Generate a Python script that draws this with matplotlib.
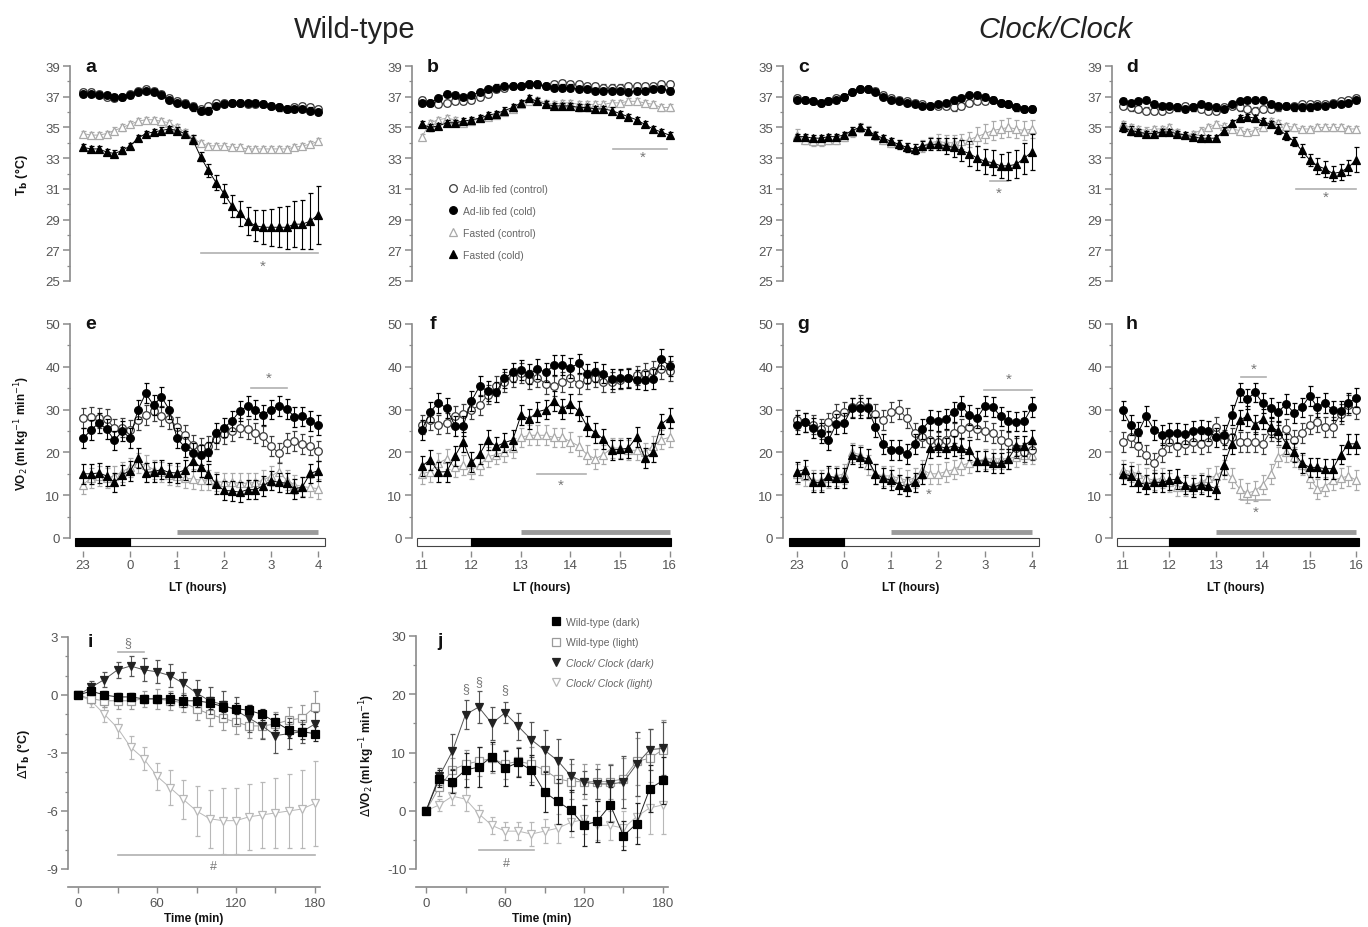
import numpy as np
import matplotlib
matplotlib.use("Agg")
import matplotlib.pyplot as plt
from matplotlib.lines import Line2D
from matplotlib.patches import Rectangle
from matplotlib.ticker import MultipleLocator

plt.rcParams['font.family'] = ['Liberation Sans', 'DejaVu Sans']
plt.rcParams['axes.unicode_minus'] = False

# ---------------- data ----------------
bin_minutes = np.arange(0, 301, 10)        # 10-min bins across 5 h
night_start = -1                            # 23:00
day_start = 11                              # 11:00
night_ticks = [-1, 0, 1, 2, 3, 4]
night_labels = ['23', '0', '1', '2', '3', '4']
day_ticks = [11, 12, 13, 14, 15, 16]
day_labels = ['11', '12', '13', '14', '15', '16']

# Tb, wild-type, dark->light (a)
a_adlib_ctrl = [37.3, 37.3, 37.2, 37.0, 36.9, 37.0, 37.2, 37.4, 37.5, 37.4, 37.2, 36.9, 36.7, 36.6, 36.4, 36.2, 36.4, 36.6, 36.6, 36.6, 36.6, 36.5, 36.5, 36.5, 36.4, 36.3, 36.2, 36.3, 36.4, 36.3, 36.2]
a_adlib_cold = [37.2, 37.2, 37.1, 37.1, 37.0, 37.0, 37.1, 37.3, 37.4, 37.3, 37.1, 36.8, 36.6, 36.5, 36.3, 36.1, 36.1, 36.4, 36.5, 36.6, 36.6, 36.6, 36.6, 36.5, 36.4, 36.3, 36.2, 36.2, 36.2, 36.1, 36.0]
a_fast_ctrl = [34.6, 34.5, 34.5, 34.6, 34.8, 35.0, 35.2, 35.4, 35.5, 35.5, 35.4, 35.3, 35.0, 34.7, 34.3, 34.0, 33.8, 33.8, 33.8, 33.7, 33.7, 33.6, 33.6, 33.6, 33.6, 33.6, 33.6, 33.7, 33.8, 33.9, 34.1]
a_fast_cold = [33.7, 33.6, 33.6, 33.4, 33.3, 33.5, 33.8, 34.3, 34.6, 34.7, 34.8, 34.9, 34.8, 34.6, 34.2, 33.1, 32.2, 31.4, 30.7, 29.9, 29.4, 28.9, 28.6, 28.5, 28.5, 28.5, 28.5, 28.7, 28.7, 28.9, 29.3]
a_fast_cold_sem = [0.2, 0.2, 0.2, 0.2, 0.2, 0.2, 0.2, 0.2, 0.2, 0.2, 0.2, 0.2, 0.2, 0.2, 0.3, 0.3, 0.4, 0.5, 0.6, 0.7, 0.8, 0.9, 1.0, 1.1, 1.2, 1.3, 1.4, 1.5, 1.6, 1.8, 1.9]

# Tb, wild-type, light->dark (b)
b_adlib_ctrl = [36.8, 36.6, 36.5, 36.6, 36.7, 36.7, 36.8, 37.0, 37.2, 37.5, 37.6, 37.7, 37.7, 37.8, 37.8, 37.7, 37.8, 37.9, 37.8, 37.8, 37.7, 37.7, 37.6, 37.6, 37.6, 37.7, 37.7, 37.7, 37.7, 37.8, 37.8]
b_adlib_cold = [36.6, 36.6, 36.9, 37.2, 37.1, 37.0, 37.1, 37.3, 37.5, 37.6, 37.7, 37.7, 37.7, 37.8, 37.8, 37.7, 37.6, 37.6, 37.6, 37.5, 37.5, 37.4, 37.4, 37.4, 37.4, 37.3, 37.4, 37.4, 37.5, 37.5, 37.4]
b_fast_ctrl = [34.4, 35.3, 35.5, 35.6, 35.5, 35.3, 35.4, 35.6, 35.7, 35.8, 36.0, 36.2, 36.5, 36.7, 36.8, 36.6, 36.5, 36.6, 36.6, 36.5, 36.5, 36.5, 36.5, 36.6, 36.6, 36.7, 36.7, 36.6, 36.5, 36.3, 36.3]
b_fast_cold = [35.2, 35.0, 35.1, 35.3, 35.3, 35.4, 35.5, 35.6, 35.8, 35.9, 36.1, 36.3, 36.6, 36.9, 36.7, 36.5, 36.4, 36.4, 36.4, 36.3, 36.3, 36.2, 36.2, 36.1, 35.9, 35.7, 35.5, 35.2, 34.9, 34.7, 34.5]

# Tb, Clock/Clock, dark->light (c)
c_adlib_ctrl = [36.9, 36.8, 36.7, 36.6, 36.7, 36.9, 37.0, 37.3, 37.5, 37.5, 37.4, 37.1, 36.9, 36.8, 36.7, 36.6, 36.5, 36.4, 36.4, 36.4, 36.3, 36.4, 36.6, 36.7, 36.7, 36.8, 36.6, 36.5, 36.3, 36.2, 36.2]
c_adlib_cold = [36.8, 36.8, 36.7, 36.6, 36.7, 36.8, 37.0, 37.3, 37.5, 37.5, 37.3, 37.0, 36.8, 36.7, 36.6, 36.5, 36.4, 36.4, 36.5, 36.6, 36.8, 36.9, 37.1, 37.1, 37.0, 36.8, 36.6, 36.5, 36.3, 36.2, 36.2]
c_fast_ctrl = [34.5, 34.2, 34.1, 34.1, 34.2, 34.2, 34.4, 34.7, 35.0, 34.8, 34.5, 34.2, 34.0, 33.9, 33.7, 33.6, 33.8, 34.0, 34.1, 34.0, 34.0, 34.1, 34.2, 34.4, 34.6, 34.8, 34.9, 35.0, 34.9, 34.8, 34.9]
c_fast_cold = [34.4, 34.4, 34.3, 34.3, 34.4, 34.4, 34.5, 34.8, 35.0, 34.8, 34.5, 34.3, 34.1, 33.9, 33.7, 33.6, 33.8, 33.9, 33.9, 33.8, 33.7, 33.5, 33.3, 33.0, 32.8, 32.7, 32.5, 32.5, 32.6, 33.0, 33.4]
c_fast_ctrl_sem = [0.4, 0.3, 0.3, 0.3, 0.3, 0.3, 0.3, 0.3, 0.3, 0.3, 0.3, 0.3, 0.3, 0.3, 0.3, 0.3, 0.4, 0.4, 0.5, 0.5, 0.5, 0.5, 0.5, 0.6, 0.6, 0.6, 0.6, 0.6, 0.6, 0.6, 0.6]
c_fast_cold_sem = [0.2, 0.2, 0.2, 0.2, 0.2, 0.2, 0.2, 0.2, 0.2, 0.2, 0.2, 0.2, 0.2, 0.3, 0.3, 0.3, 0.3, 0.4, 0.4, 0.5, 0.6, 0.7, 0.8, 0.8, 0.8, 0.8, 0.8, 0.9, 0.9, 1.0, 1.2]

# Tb, Clock/Clock, light->dark (d)
d_adlib_ctrl = [36.4, 36.3, 36.2, 36.1, 36.1, 36.1, 36.2, 36.3, 36.4, 36.3, 36.2, 36.1, 36.1, 36.3, 36.4, 36.3, 36.2, 36.1, 36.2, 36.2, 36.3, 36.4, 36.4, 36.5, 36.5, 36.5, 36.5, 36.6, 36.7, 36.8, 36.9]
d_adlib_cold = [36.7, 36.6, 36.7, 36.8, 36.5, 36.4, 36.4, 36.3, 36.2, 36.3, 36.5, 36.4, 36.3, 36.2, 36.5, 36.7, 36.8, 36.8, 36.8, 36.5, 36.4, 36.4, 36.3, 36.3, 36.3, 36.4, 36.4, 36.5, 36.5, 36.6, 36.8]
d_fast_ctrl = [35.2, 35.0, 34.9, 34.8, 34.9, 34.9, 35.0, 34.7, 34.5, 34.6, 34.8, 35.0, 35.2, 35.1, 34.9, 34.8, 34.7, 34.8, 35.0, 35.4, 35.3, 35.1, 35.0, 34.9, 34.9, 35.0, 35.0, 35.0, 35.0, 34.9, 34.9]
d_fast_cold = [35.0, 34.8, 34.7, 34.6, 34.6, 34.7, 34.7, 34.6, 34.5, 34.4, 34.3, 34.3, 34.3, 34.8, 35.3, 35.6, 35.7, 35.6, 35.4, 35.2, 34.9, 34.5, 34.1, 33.5, 32.9, 32.5, 32.3, 32.0, 32.1, 32.4, 32.9]
d_fast_cold_sem = [0.3, 0.3, 0.2, 0.2, 0.2, 0.2, 0.2, 0.2, 0.2, 0.2, 0.2, 0.2, 0.2, 0.2, 0.2, 0.2, 0.2, 0.2, 0.2, 0.2, 0.3, 0.3, 0.3, 0.4, 0.4, 0.5, 0.5, 0.5, 0.5, 0.5, 0.8]

TB_SEM = 0.2      # typical SEM for the remaining Tb series

# VO2, wild-type, dark->light (e)
e_adlib_ctrl = [28.0, 28.3, 28.0, 27.8, 25.6, 25.8, 25.2, 27.6, 28.8, 29.6, 28.5, 27.8, 26.0, 24.0, 21.8, 21.0, 21.5, 23.2, 24.2, 25.0, 25.8, 25.4, 24.6, 23.8, 21.5, 19.8, 22.2, 22.6, 22.0, 21.6, 20.4]
e_adlib_cold = [23.3, 25.2, 26.9, 25.4, 22.8, 25.0, 23.3, 30.0, 33.8, 31.0, 33.0, 30.0, 23.3, 21.2, 19.8, 19.4, 20.2, 24.6, 25.8, 27.3, 29.7, 30.8, 30.0, 28.8, 30.0, 30.8, 30.2, 28.3, 28.4, 27.4, 26.4]
e_fast_ctrl = [12.5, 14.0, 14.5, 14.0, 14.5, 15.5, 16.5, 17.5, 17.0, 16.0, 15.5, 14.8, 14.5, 14.0, 13.8, 13.5, 13.5, 13.2, 13.0, 13.0, 12.8, 12.8, 13.0, 13.5, 14.5, 15.5, 13.5, 12.5, 12.0, 11.8, 11.5]
e_fast_cold = [15.0, 15.0, 15.2, 14.5, 13.0, 14.8, 15.7, 18.7, 15.3, 15.5, 16.0, 15.3, 15.2, 15.9, 18.0, 16.6, 15.0, 12.6, 11.1, 11.0, 10.7, 11.3, 11.3, 12.2, 13.4, 13.0, 12.8, 11.5, 11.9, 15.1, 15.7]

# VO2, wild-type, light->dark (f)
f_adlib_ctrl = [26.5, 27.5, 26.5, 26.8, 28.5, 29.0, 30.0, 31.0, 33.5, 35.5, 36.5, 37.5, 38.5, 37.0, 37.5, 36.0, 35.5, 36.5, 37.5, 36.0, 37.0, 37.5, 36.5, 36.5, 37.0, 37.5, 38.0, 38.5, 39.0, 39.5, 39.0]
f_adlib_cold = [25.2, 29.5, 31.6, 30.3, 26.2, 26.2, 32.0, 35.5, 34.3, 34.1, 37.3, 38.7, 39.2, 38.3, 39.5, 38.7, 40.4, 40.4, 39.8, 40.8, 38.4, 38.8, 38.4, 37.1, 37.3, 37.3, 37.0, 36.8, 37.1, 41.8, 40.2]
f_fast_ctrl = [15.0, 15.5, 17.5, 18.5, 16.5, 17.0, 16.0, 17.0, 19.0, 19.5, 20.0, 21.0, 23.5, 24.0, 24.0, 24.0, 23.5, 23.5, 22.5, 21.5, 19.5, 18.5, 19.5, 21.0, 21.0, 20.5, 20.5, 20.0, 21.5, 23.0, 23.5]
f_fast_cold = [16.8, 18.3, 15.4, 15.5, 19.1, 22.5, 17.7, 19.6, 22.9, 21.4, 22.3, 22.9, 28.7, 27.8, 29.5, 30.0, 32.0, 30.2, 31.4, 29.6, 26.1, 24.6, 23.1, 20.6, 20.7, 21.0, 23.6, 18.7, 20.0, 26.6, 28.1]

# VO2, Clock/Clock, dark->light (g)
g_adlib_ctrl = [27.5, 27.0, 26.5, 25.5, 27.0, 29.0, 29.5, 30.5, 31.0, 30.5, 29.0, 27.5, 29.5, 30.0, 28.0, 24.5, 23.5, 23.0, 22.5, 23.0, 24.5, 25.5, 26.0, 25.5, 25.0, 24.5, 23.0, 22.5, 21.0, 20.0, 20.5]
g_adlib_cold = [26.5, 27.0, 25.7, 24.5, 22.8, 26.6, 26.8, 30.4, 30.4, 30.3, 26.0, 22.0, 20.5, 20.5, 19.7, 22.0, 25.5, 27.5, 27.3, 27.8, 29.5, 30.9, 28.7, 28.0, 30.9, 30.6, 28.4, 27.3, 27.2, 27.3, 30.6]
g_fast_ctrl = [15.0, 14.5, 13.5, 13.5, 14.0, 14.5, 15.0, 20.0, 19.5, 17.0, 15.0, 14.5, 14.5, 14.0, 13.5, 14.0, 16.0, 15.0, 15.0, 15.5, 16.0, 17.0, 17.5, 18.0, 18.5, 18.5, 18.5, 18.5, 19.0, 19.5, 19.5]
g_fast_cold = [15.5, 16.0, 13.0, 13.0, 14.5, 14.0, 14.0, 19.5, 19.0, 18.5, 15.0, 14.0, 13.5, 12.5, 12.0, 13.0, 15.0, 21.0, 21.5, 21.0, 21.5, 21.0, 20.5, 18.0, 18.0, 17.5, 17.5, 18.5, 21.5, 21.5, 23.0]

# VO2, Clock/Clock, light->dark (h)
h_adlib_ctrl = [22.5, 23.5, 21.5, 19.5, 17.5, 20.0, 22.5, 21.5, 22.0, 22.5, 22.0, 22.5, 26.0, 23.0, 23.5, 22.5, 22.5, 22.5, 22.0, 25.0, 24.0, 25.5, 23.0, 24.5, 26.5, 27.0, 26.0, 26.0, 29.0, 31.0, 30.0]
h_adlib_cold = [29.8, 26.4, 24.7, 28.5, 25.3, 24.1, 24.5, 24.5, 24.3, 25.0, 25.3, 25.0, 23.5, 24.0, 28.8, 34.0, 32.5, 34.0, 31.5, 30.3, 29.5, 31.3, 29.2, 30.5, 33.2, 30.6, 31.5, 29.8, 29.6, 31.5, 32.8]
h_fast_ctrl = [16.0, 15.5, 15.0, 14.0, 13.5, 14.0, 13.0, 12.0, 12.0, 12.5, 13.0, 14.0, 14.5, 16.0, 14.0, 11.5, 10.5, 11.0, 12.5, 15.0, 19.0, 20.0, 19.0, 17.0, 14.0, 11.5, 12.0, 13.5, 14.0, 14.5, 13.5]
h_fast_cold = [15.0, 14.5, 13.0, 12.5, 13.0, 13.0, 13.5, 13.8, 12.5, 11.8, 12.5, 12.2, 11.5, 17.0, 22.0, 27.5, 28.5, 26.5, 27.8, 26.0, 25.0, 22.0, 20.0, 17.5, 16.5, 16.5, 16.2, 16.2, 19.5, 22.0, 22.0]

VO2_SEM = 2.3     # typical SEM for VO2 series

# change from onset of cold exposure (i, j)
time_min = np.arange(0, 181, 10)
i_wt_dark = [0, 0.2, 0.0, -0.1, -0.1, -0.2, -0.2, -0.2, -0.3, -0.3, -0.4, -0.6, -0.7, -0.8, -1.0, -1.4, -1.8, -1.9, -2.0]
i_wt_light = [0, -0.2, -0.3, -0.3, -0.3, -0.2, -0.2, -0.3, -0.4, -0.7, -1.0, -1.2, -1.4, -1.6, -1.6, -1.5, -1.3, -1.2, -0.6]
i_clk_dark = [0, 0.4, 0.8, 1.3, 1.5, 1.3, 1.2, 1.0, 0.6, 0.1, -0.3, -0.5, -0.8, -1.2, -1.6, -2.1, -2.0, -1.9, -1.5]
i_clk_light = [0, -0.3, -1.0, -1.7, -2.7, -3.3, -4.2, -4.8, -5.4, -6.0, -6.4, -6.5, -6.5, -6.3, -6.2, -6.1, -6.0, -5.9, -5.6]
i_wt_dark_sem = [0, 0.2, 0.2, 0.2, 0.2, 0.2, 0.2, 0.3, 0.3, 0.3, 0.3, 0.3, 0.3, 0.3, 0.3, 0.4, 0.4, 0.4, 0.4]
i_wt_light_sem = [0, 0.2, 0.3, 0.4, 0.4, 0.4, 0.5, 0.5, 0.5, 0.6, 0.6, 0.6, 0.6, 0.6, 0.6, 0.6, 0.7, 0.7, 0.8]
i_clk_dark_sem = [0, 0.3, 0.4, 0.4, 0.5, 0.6, 0.6, 0.6, 0.6, 0.7, 0.7, 0.7, 0.7, 0.7, 0.7, 0.9, 0.8, 0.6, 0.6]
i_clk_light_sem = [0, 0.3, 0.4, 0.5, 0.6, 0.6, 0.7, 0.9, 1.0, 1.3, 1.5, 1.7, 1.7, 1.7, 1.7, 1.8, 1.9, 2.0, 2.2]

j_wt_dark = [0, 5.5, 5.0, 7.0, 7.5, 9.3, 7.3, 8.3, 7.0, 3.2, 1.6, 0.1, -2.5, -1.8, 1.0, -4.3, -2.2, 3.8, 5.2]
j_wt_light = [0, 4.0, 7.0, 8.0, 8.5, 9.0, 8.0, 8.5, 8.0, 7.0, 5.5, 5.0, 5.0, 5.0, 5.0, 5.5, 8.5, 9.0, 10.5]
j_clk_dark = [0, 5.9, 10.2, 16.5, 17.8, 15.0, 16.8, 14.5, 12.2, 10.4, 8.6, 6.0, 4.9, 4.6, 4.6, 4.9, 8.0, 10.5, 10.7]
j_clk_light = [0, 1.0, 2.5, 2.0, -0.5, -2.5, -3.5, -3.5, -4.0, -3.5, -3.0, -2.0, -1.5, -2.5, -2.5, -3.0, -1.0, 0.5, 1.0]
j_wt_dark_sem = [0, 1.5, 2.0, 3.0, 3.5, 2.5, 3.0, 2.5, 2.5, 3.5, 3.8, 3.5, 3.5, 3.5, 3.0, 2.5, 3.5, 4.0, 4.0]
j_wt_light_sem = [0, 1.5, 2.0, 2.5, 2.5, 2.5, 2.5, 2.5, 3.0, 3.5, 3.5, 3.0, 3.0, 3.0, 3.0, 3.5, 4.0, 5.0, 5.0]
j_clk_dark_sem = [0, 1.5, 3.0, 2.5, 2.8, 2.8, 1.8, 2.3, 3.0, 3.5, 3.8, 2.8, 2.0, 2.5, 3.2, 4.5, 5.5, 3.5, 4.5]
j_clk_light_sem = [0, 1.0, 1.5, 2.0, 1.5, 1.5, 1.5, 1.5, 2.0, 2.0, 2.5, 2.5, 2.5, 2.5, 2.5, 3.0, 3.5, 4.5, 5.0]

legend_top = ['Ad-lib fed (control)', 'Ad-lib fed (cold)', 'Fasted (control)', 'Fasted (cold)']
legend_bottom = ['Wild-type (dark)', 'Wild-type (light)', 'Clock/ Clock (dark)', 'Clock/ Clock (light)']

# ---------------- styles ----------------
W, H = 1368, 928
fig = plt.figure(figsize=(W / 100, H / 100), dpi=100)
AX_GREY = '#8a8a8a'
TICK_TXT = '#555555'
MS = 5.5

STY = {
    'adlib_ctrl': dict(marker='o', mfc='white', mec='#3c3c3c', color='#3c3c3c', z=4),
    'adlib_cold': dict(marker='o', mfc='black', mec='black', color='black', z=5),
    'fast_ctrl': dict(marker='^', mfc='white', mec='#a9a9a9', color='#a9a9a9', z=3),
    'fast_cold': dict(marker='^', mfc='black', mec='black', color='black', z=6),
    'wt_dark': dict(marker='s', mfc='black', mec='black', color='#222222', z=6),
    'wt_light': dict(marker='s', mfc='white', mec='#9a9a9a', color='#9a9a9a', z=4),
    'clk_dark': dict(marker='v', mfc='#222222', mec='#222222', color='#555555', z=5),
    'clk_light': dict(marker='v', mfc='white', mec='#b8b8b8', color='#b8b8b8', z=3),
}


def px_axes(left, top, right, bottom):
    return fig.add_axes([left / W, 1 - bottom / H, (right - left) / W, (bottom - top) / H])


def plot_series(ax, x, y, err, key, ms=MS):
    s = STY[key]
    ax.errorbar(x, y, yerr=err, fmt='-', marker=s['marker'], ms=ms, mfc=s['mfc'], mec=s['mec'],
                mew=0.9, color=s['color'], lw=0.7, ecolor=s['color'], elinewidth=0.8,
                capsize=1.8, capthick=0.8, zorder=s['z'], clip_on=False)


def style_left(ax):
    for sp in ['top', 'right']:
        ax.spines[sp].set_visible(False)
    ax.spines['left'].set_color(AX_GREY)
    ax.spines['left'].set_linewidth(1.2)
    ax.tick_params(axis='y', which='major', length=5, width=1.1, color=AX_GREY,
                   labelsize=9.5, labelcolor=TICK_TXT, pad=2)
    ax.tick_params(axis='y', which='minor', length=2.5, width=0.9, color=AX_GREY)


def panel_letter(ax, letter, x=0.08, y=1.0):
    ax.text(x, y, letter, transform=ax.transAxes, fontsize=14, fontweight='bold',
            ha='center', va='center', color='#111111')


def sig(ax, x0, x1, yline, xs, ys, sym='*', fs=11):
    ax.plot([x0, x1], [yline, yline], color='#b0b0b0', lw=1.2, zorder=2, clip_on=False)
    ax.text(xs, ys, sym, ha='center', va='center', fontsize=fs, color='#777777', zorder=2)


night_hours = night_start + bin_minutes / 60
day_hours = day_start + bin_minutes / 60

cols = [
    dict(left=70, right=325, xlim=(-1.28, 4.15), x=night_hours, night=True),
    dict(left=412, right=672, xlim=(10.8, 16.05), x=day_hours, night=False),
    dict(left=783, right=1039, xlim=(-1.3, 4.15), x=night_hours, night=True),
    dict(left=1112, right=1360, xlim=(10.77, 16.08), x=day_hours, night=False),
]

tb_sets = [
    (a_adlib_ctrl, a_adlib_cold, a_fast_ctrl, a_fast_cold, TB_SEM, a_fast_cold_sem),
    (b_adlib_ctrl, b_adlib_cold, b_fast_ctrl, b_fast_cold, TB_SEM, TB_SEM),
    (c_adlib_ctrl, c_adlib_cold, c_fast_ctrl, c_fast_cold, c_fast_ctrl_sem, c_fast_cold_sem),
    (d_adlib_ctrl, d_adlib_cold, d_fast_ctrl, d_fast_cold, TB_SEM, d_fast_cold_sem),
]
vo_sets = [
    (e_adlib_ctrl, e_adlib_cold, e_fast_ctrl, e_fast_cold),
    (f_adlib_ctrl, f_adlib_cold, f_fast_ctrl, f_fast_cold),
    (g_adlib_ctrl, g_adlib_cold, g_fast_ctrl, g_fast_cold),
    (h_adlib_ctrl, h_adlib_cold, h_fast_ctrl, h_fast_cold),
]
top_letters = ['a', 'b', 'c', 'd']
mid_letters = ['e', 'f', 'g', 'h']
top_axes, mid_axes = [], []

for k, col in enumerate(cols):
    # ---- Tb row ----
    ax = px_axes(col['left'], 67, col['right'], 282)
    top_axes.append(ax)
    ac, ak, fc, fk, fc_sem, fk_sem = tb_sets[k]
    x = col['x']
    plot_series(ax, x, fc, fc_sem, 'fast_ctrl')
    plot_series(ax, x, ac, TB_SEM, 'adlib_ctrl')
    plot_series(ax, x, ak, TB_SEM, 'adlib_cold')
    plot_series(ax, x, fk, fk_sem, 'fast_cold')
    ax.set_xlim(*col['xlim'])
    ax.set_ylim(25, 39)
    ax.set_yticks(range(25, 40, 2))
    ax.yaxis.set_minor_locator(MultipleLocator(1))
    style_left(ax)
    ax.spines['bottom'].set_visible(False)
    ax.tick_params(axis='x', which='both', bottom=False, labelbottom=False)
    panel_letter(ax, top_letters[k])

    # ---- VO2 row ----
    ax2 = px_axes(col['left'], 325, col['right'], 539)
    mid_axes.append(ax2)
    ac, ak, fc, fk = vo_sets[k]
    plot_series(ax2, x, fc, VO2_SEM, 'fast_ctrl')
    plot_series(ax2, x, ac, VO2_SEM, 'adlib_ctrl')
    plot_series(ax2, x, ak, VO2_SEM, 'adlib_cold')
    plot_series(ax2, x, fk, VO2_SEM, 'fast_cold')
    ax2.set_xlim(*col['xlim'])
    ax2.set_ylim(0, 50)
    ax2.set_yticks(range(0, 51, 10))
    ax2.yaxis.set_minor_locator(MultipleLocator(5))
    style_left(ax2)
    ax2.spines['bottom'].set_position(('outward', 9))
    ax2.spines['bottom'].set_visible(False)
    if col['night']:
        ax2.set_xticks(night_ticks)
        ax2.set_xticklabels(night_labels)
        dark0, dark1 = -1.17, 0
        light0, light1 = 0, col['xlim'][1]
        cold0, cold1 = 1, 4
    else:
        ax2.set_xticks(day_ticks)
        ax2.set_xticklabels(day_labels)
        light0, light1 = col['xlim'][0] + 0.1, 12
        dark0, dark1 = 12, col['xlim'][1] - 0.02
        cold0, cold1 = 13, 16
    ax2.tick_params(axis='x', which='major', length=4, width=1.0, color=AX_GREY,
                    labelsize=9.5, labelcolor=TICK_TXT, pad=2)
    ax2.add_patch(Rectangle((light0, -1.9), light1 - light0, 1.9, facecolor='white',
                            edgecolor='#444444', lw=0.8, clip_on=False, zorder=7))
    ax2.add_patch(Rectangle((dark0, -1.9), dark1 - dark0, 1.9, facecolor='black',
                            edgecolor='black', lw=0.8, clip_on=False, zorder=8))
    ax2.plot([cold0, cold1], [1.3, 1.3], color='#9a9a9a', lw=3.5, solid_capstyle='butt', zorder=2)
    ax2.set_xlabel('LT (hours)', fontsize=8.5, fontweight='bold', labelpad=7, color='#111111')
    panel_letter(ax2, mid_letters[k])

# significance marks
sig(top_axes[0], 1.5, 4.0, 26.85, 2.82, 26.0)
sig(top_axes[1], 14.85, 15.95, 33.6, 15.45, 33.1)
sig(top_axes[2], 3.1, 3.5, 31.5, 3.3, 30.75)
sig(top_axes[3], 14.7, 16.0, 31.0, 15.35, 30.5)
sig(mid_axes[0], 2.58, 3.35, 35.0, 2.95, 37.4)
sig(mid_axes[1], 13.32, 14.32, 15.0, 13.8, 12.5)
sig(mid_axes[2], 2.97, 4.0, 34.5, 3.5, 37.3)
mid_axes[2].text(1.8, 10.4, '*', ha='center', va='center', fontsize=11, color='#777777')
sig(mid_axes[3], 13.54, 14.07, 37.6, 13.8, 39.6)
sig(mid_axes[3], 13.54, 14.15, 8.8, 13.85, 6.2)

# legend in b
handles = [Line2D([], [], ls='none', marker=STY[k]['marker'], ms=MS, mfc=STY[k]['mfc'],
                  mec=STY[k]['mec'], mew=0.9)
           for k in ['adlib_ctrl', 'adlib_cold', 'fast_ctrl', 'fast_cold']]
leg = top_axes[1].legend(handles, legend_top, loc='upper left', bbox_to_anchor=(0.12, 0.47),
                         frameon=False, fontsize=7.5, labelspacing=1.15, handlelength=1.0,
                         handletextpad=0.5, borderaxespad=0)
for t in leg.get_texts():
    t.set_color('#666666')

# y labels
fig.text(22 / W, 1 - 175 / H, r'T$_\mathbf{b}$ (°C)', rotation=90, ha='center', va='center',
         fontsize=9, fontweight='bold', color='#111111')
fig.text(22 / W, 1 - 433 / H, r'VO$_2$ (ml kg$^{-1}$ min$^{-1}$)', rotation=90,
         ha='center', va='center', fontsize=8.5, fontweight='bold', color='#111111')
fig.text(23 / W, 1 - 754 / H, r'$\Delta$T$_\mathbf{b}$ (°C)', rotation=90, ha='center', va='center',
         fontsize=9, fontweight='bold', color='#111111')
fig.text(367 / W, 1 - 755 / H, r'$\Delta$VO$_2$ (ml kg$^{-1}$ min$^{-1}$)', rotation=90,
         ha='center', va='center', fontsize=8.5, fontweight='bold', color='#111111')

# titles
fig.text(355 / W, 1 - 30 / H, 'Wild-type', ha='center', va='center', fontsize=21, color='#222222')
fig.text(1055 / W, 1 - 30 / H, 'Clock/Clock', ha='center', va='center', fontsize=21,
         style='italic', color='#222222')

# ---------------- i & j ----------------
def style_bottom_panel(ax):
    style_left(ax)
    ax.spines['bottom'].set_position(('outward', 13))
    ax.spines['bottom'].set_color(AX_GREY)
    ax.spines['bottom'].set_linewidth(1.2)
    ax.set_xlim(-7.6, 183.8)
    ax.set_xticks(range(0, 181, 30))
    ax.set_xticklabels(['0', '', '60', '', '120', '', '180'])
    ax.tick_params(axis='x', which='major', length=4, width=1.0, color=AX_GREY,
                   labelsize=9.5, labelcolor=TICK_TXT, pad=3)
    ax.set_xlabel('Time (min)', fontsize=8.5, fontweight='bold', labelpad=2, color='#111111')


axi = px_axes(68, 638, 320, 870)
plot_series(axi, time_min, i_clk_light, i_clk_light_sem, 'clk_light')
plot_series(axi, time_min, i_wt_light, i_wt_light_sem, 'wt_light')
plot_series(axi, time_min, i_clk_dark, i_clk_dark_sem, 'clk_dark')
plot_series(axi, time_min, i_wt_dark, i_wt_dark_sem, 'wt_dark')
axi.set_ylim(-9, 3)
axi.set_yticks([-9, -6, -3, 0, 3])
axi.yaxis.set_minor_locator(MultipleLocator(1))
style_bottom_panel(axi)
panel_letter(axi, 'i', x=0.087, y=0.98)
sig(axi, 30, 50, 2.25, 38, 2.75, sym='§', fs=9)
sig(axi, 30, 180, -8.3, 103, -8.85, sym='#', fs=9)

axj = px_axes(416, 637, 668, 870)
plot_series(axj, time_min, j_clk_light, j_clk_light_sem, 'clk_light')
plot_series(axj, time_min, j_wt_light, j_wt_light_sem, 'wt_light')
plot_series(axj, time_min, j_clk_dark, j_clk_dark_sem, 'clk_dark')
plot_series(axj, time_min, j_wt_dark, j_wt_dark_sem, 'wt_dark')
axj.set_ylim(-10, 30)
axj.set_yticks(range(-10, 31, 10))
axj.yaxis.set_minor_locator(MultipleLocator(5))
style_bottom_panel(axj)
panel_letter(axj, 'j', x=0.095, y=0.98)
for xs, ys in [(30, 21.0), (40, 22.3), (60, 20.8)]:
    axj.text(xs, ys, '§', ha='center', va='center', fontsize=9, color='#777777')
sig(axj, 40, 82, -6.8, 61, -9.0, sym='#', fs=9)

handles_j = [Line2D([], [], ls='none', marker=STY[k]['marker'], ms=MS, mfc=STY[k]['mfc'],
                    mec=STY[k]['mec'], mew=0.9)
             for k in ['wt_dark', 'wt_light', 'clk_dark', 'clk_light']]
legj = axj.legend(handles_j, legend_bottom, loc='upper left', bbox_to_anchor=(0.52, 1.1),
                  frameon=False, fontsize=7.5, labelspacing=1.0, handlelength=1.0,
                  handletextpad=0.4, borderaxespad=0)
for n, t in enumerate(legj.get_texts()):
    t.set_color('#666666')
    if n >= 2:
        t.set_style('italic')

fig.savefig('out.png', dpi=100)
